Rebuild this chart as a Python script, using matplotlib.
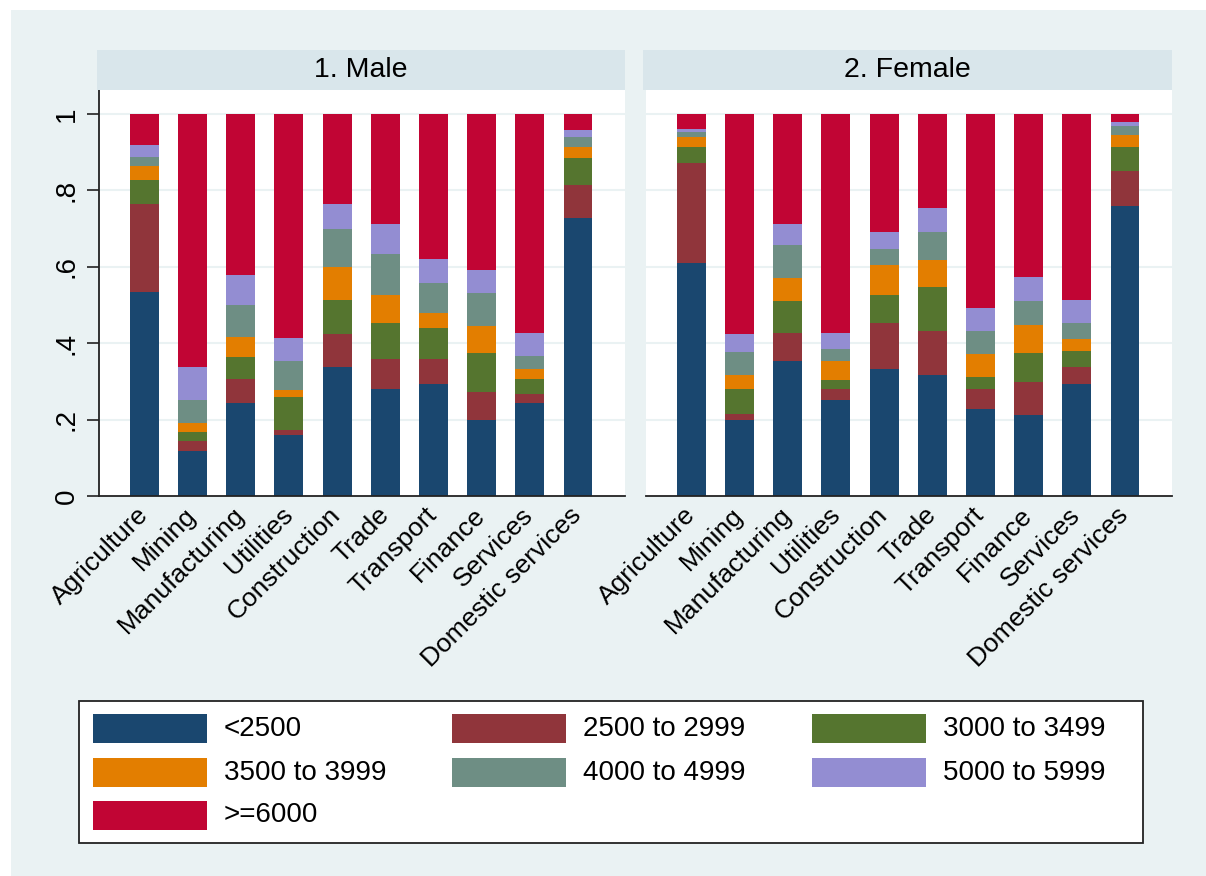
import numpy as np
import matplotlib
matplotlib.use("Agg")
import matplotlib.pyplot as plt
from matplotlib.patches import Rectangle

plt.rcParams['font.family'] = ['Liberation Sans', 'DejaVu Sans']

categories = ["Agriculture", "Mining", "Manufacturing", "Utilities", "Construction",
              "Trade", "Transport", "Finance", "Services", "Domestic services"]
series = ["<2500", "2500 to 2999", "3000 to 3499", "3500 to 3999",
          "4000 to 4999", "5000 to 5999", ">=6000"]
colors = ["#1a476f", "#90353b", "#55752f", "#e37e00", "#6e8e84", "#938dd2", "#c10534"]

# share of workers in each income band, by industry
male = [
    [0.535, 0.118, 0.243, 0.161, 0.337, 0.281, 0.294, 0.199, 0.243, 0.729],
    [0.229, 0.026, 0.064, 0.012, 0.086, 0.078, 0.065, 0.073, 0.025, 0.086],
    [0.063, 0.024, 0.056, 0.087, 0.090, 0.095, 0.081, 0.103, 0.039, 0.070],
    [0.037, 0.022, 0.052, 0.017, 0.087, 0.073, 0.040, 0.070, 0.025, 0.029],
    [0.024, 0.061, 0.086, 0.077, 0.099, 0.107, 0.078, 0.086, 0.035, 0.027],
    [0.031, 0.086, 0.078, 0.060, 0.065, 0.078, 0.063, 0.060, 0.061, 0.016],
    [0.081, 0.663, 0.421, 0.586, 0.236, 0.288, 0.379, 0.409, 0.572, 0.043],
]
female = [
    [0.609, 0.199, 0.354, 0.251, 0.333, 0.316, 0.229, 0.212, 0.294, 0.759],
    [0.262, 0.017, 0.074, 0.030, 0.120, 0.116, 0.052, 0.086, 0.043, 0.091],
    [0.043, 0.065, 0.082, 0.022, 0.073, 0.116, 0.031, 0.077, 0.043, 0.064],
    [0.027, 0.035, 0.060, 0.051, 0.078, 0.069, 0.060, 0.074, 0.030, 0.031],
    [0.012, 0.060, 0.086, 0.031, 0.043, 0.073, 0.060, 0.061, 0.043, 0.025],
    [0.009, 0.047, 0.056, 0.043, 0.043, 0.065, 0.060, 0.064, 0.060, 0.009],
    [0.038, 0.577, 0.288, 0.572, 0.310, 0.245, 0.508, 0.426, 0.487, 0.021],
]
panels = [("1. Male", male), ("2. Female", female)]
yticks = [0, 0.2, 0.4, 0.6, 0.8, 1.0]
ytick_labels = ["0", ".2", ".4", ".6", ".8", "1"]

W, H = 1206, 876
BG = "#eaf2f3"
STRIP = "#d9e6eb"

fig = plt.figure(figsize=(W / 100, H / 100), dpi=100, facecolor="white")


def frect(x0, y0, x1, y1):
    # pixel box (y from top) -> figure fraction [l, b, w, h]
    return [x0 / W, 1 - y1 / H, (x1 - x0) / W, (y1 - y0) / H]


l, b, w, h = frect(11, 10, W, H)
fig.patches.append(Rectangle((l, b), w, h, transform=fig.transFigure,
                             facecolor=BG, edgecolor="none", zorder=-10))

panel_x = [(99, 625), (646, 1172)]
strip_x = [(97, 625), (643, 1172)]
x = np.arange(len(categories))

for i, (title, data) in enumerate(panels):
    x0, x1 = panel_x[i]
    ax = fig.add_axes(frect(x0, 90, x1, 496))
    ax.set_facecolor("white")

    bottom = np.zeros(len(categories))
    for vals, name, col in zip(data, series, colors):
        ax.bar(x, vals, width=0.6, bottom=bottom, color=col, label=name,
               linewidth=0, zorder=2)
        bottom += np.array(vals)

    ax.set_xlim(-0.94, 9.975)
    ax.set_ylim(0, 1.063)
    for yv in yticks[1:]:
        ax.axhline(yv, color=BG, lw=1.5, zorder=1)

    ax.set_xticks(x)
    ax.set_xticklabels(categories, rotation=45, ha="right", va="center",
                       rotation_mode="anchor", fontsize=19)
    ax.tick_params(axis="x", length=0, pad=11)

    for side in ["top", "right"]:
        ax.spines[side].set_visible(False)
    ax.spines["bottom"].set_color("#222222")
    ax.spines["bottom"].set_linewidth(1.3)

    if i == 0:
        ax.set_yticks(yticks)
        ax.set_yticklabels(ytick_labels, rotation=90, va="center", fontsize=20)
        ax.tick_params(axis="y", length=9, width=1.2, color="#222222", pad=5)
        ax.spines["left"].set_color("#222222")
        ax.spines["left"].set_linewidth(1.3)
    else:
        ax.set_yticks([])
        ax.spines["left"].set_visible(False)

    # header strip
    sx0, sx1 = strip_x[i]
    l, b, w, h = frect(sx0, 50, sx1, 90)
    fig.patches.append(Rectangle((l, b), w, h, transform=fig.transFigure,
                                 facecolor=STRIP, edgecolor="none"))
    fig.text(l + w / 2, b + h / 2, title, ha="center", va="center", fontsize=20.5)

# legend box
l, b, w, h = frect(79, 701, 1143, 843)
fig.patches.append(Rectangle((l, b), w, h, transform=fig.transFigure,
                             facecolor="white", edgecolor="#222222", linewidth=1.3))
col_x = [93, 452, 812]
row_y = [714, 758, 801]
for k, (name, col) in enumerate(zip(series, colors)):
    r, c = divmod(k, 3)
    sx, sy = col_x[c], row_y[r]
    l, b, w, h = frect(sx, sy, sx + 114, sy + 29)
    fig.patches.append(Rectangle((l, b), w, h, transform=fig.transFigure,
                                 facecolor=col, edgecolor="none"))
    fig.text((sx + 131) / W, b + h / 2, name, ha="left", va="center", fontsize=20)

fig.savefig("out.png", dpi=100, facecolor=fig.get_facecolor())
